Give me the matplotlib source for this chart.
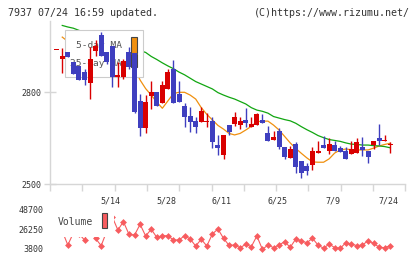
import matplotlib
matplotlib.use("Agg")
import matplotlib.pyplot as plt
import matplotlib.transforms as mtransforms
from matplotlib.patches import Rectangle
import numpy as np

# ---------------- data ----------------
title_left = "7937 07/24 16:59 updated."
title_right = "(C)https://www.rizumu.net/"
date_labels = ["5/14", "5/28", "6/11", "6/25", "7/9", "7/24"]
date_label_idx = [10, 20, 30, 40, 50, 60]
price_ticks = [2500, 2800]
volume_ticks = [3800, 26250, 48700]
volume_tick_labels = ["3800", "26250", "48700"]
legend_price = ["5-day MA", "25-day MA"]
legend_volume = "Volume"

opens = [2939, 2907, 2930, 2898, 2885, 2866, 2830, 2933, 2985, 2929,
         2950, 2850, 2848, 2929, 2927, 2771, 2684, 2788, 2800, 2763,
         2810, 2875, 2793, 2754, 2722, 2705, 2703, 2701, 2706, 2627,
         2595, 2692, 2697, 2692, 2709, 2687, 2692, 2709, 2667, 2643,
         2674, 2622, 2586, 2630, 2575, 2559, 2562, 2602, 2627, 2609,
         2627, 2618, 2609, 2598, 2602, 2622, 2609, 2626, 2651, 2640,
         2630]
highs = [2939, 2942, 2930, 2898, 2885, 2876, 2948, 2970, 2995, 2929,
         2950, 2899, 2908, 2946, 2927, 2793, 2790, 2836, 2800, 2836,
         2874, 2904, 2836, 2763, 2752, 2719, 2750, 2733, 2717, 2660,
         2660, 2692, 2735, 2717, 2749, 2717, 2733, 2728, 2689, 2673,
         2682, 2622, 2624, 2637, 2575, 2567, 2622, 2640, 2656, 2649,
         2640, 2624, 2622, 2640, 2651, 2654, 2609, 2640, 2696, 2660,
         2638]
lows = [2939, 2861, 2915, 2860, 2839, 2823, 2777, 2917, 2917, 2890,
        2817, 2817, 2841, 2875, 2731, 2657, 2667, 2743, 2755, 2763,
        2810, 2765, 2768, 2687, 2671, 2667, 2703, 2687, 2618, 2595,
        2581, 2660, 2690, 2678, 2687, 2685, 2692, 2698, 2641, 2643,
        2613, 2581, 2586, 2537, 2520, 2529, 2546, 2602, 2618, 2598,
        2609, 2605, 2582, 2598, 2602, 2591, 2569, 2613, 2627, 2640,
        2602]
closes = [2939, 2917, 2915, 2860, 2839, 2839, 2908, 2950, 2917, 2899,
          2850, 2856, 2902, 2882, 2736, 2684, 2768, 2800, 2755, 2823,
          2866, 2765, 2768, 2719, 2703, 2687, 2739, 2706, 2638, 2618,
          2660, 2670, 2719, 2705, 2700, 2696, 2728, 2700, 2641, 2654,
          2622, 2589, 2614, 2557, 2537, 2543, 2608, 2608, 2618, 2630,
          2609, 2605, 2582, 2614, 2637, 2611, 2589, 2640, 2641, 2643,
          2630]
ma5 = [np.nan, 2979, 2965, 2935, 2915, 2894, 2874, 2872, 2879, 2891,
       2903, 2905, 2894, 2885, 2878, 2839, 2811, 2790, 2767, 2747,
       2771, 2795, 2799, 2799, 2790, 2777, 2749, 2727, 2709, 2691,
       2679, 2665, 2660, 2665, 2676, 2688, 2703, 2705, 2705, 2692,
       2676, 2655, 2634, 2616, 2600, 2585, 2572, 2571, 2571, 2582,
       2601, 2611, 2614, 2612, 2611, 2611, 2611, 2617, 2624, 2629,
       2633]
ma25 = [np.nan, 3017, 3012, 3008, 3001, 2995, 2989, 2983, 2977, 2971,
        2965, 2959, 2953, 2947, 2941, 2935, 2929, 2916, 2906, 2895,
        2885, 2876, 2865, 2856, 2845, 2834, 2826, 2818, 2810, 2798,
        2790, 2783, 2777, 2769, 2761, 2749, 2741, 2737, 2731, 2720,
        2715, 2710, 2706, 2698, 2687, 2677, 2668, 2658, 2651, 2645,
        2642, 2639, 2634, 2630, 2629, 2627, 2627, 2625, 2624, 2622,
        2618]
volume = [28000, 24000, 8300, 22000, 21000, 14000, 30000, 15700, 7500, 24000,
          40000, 25300, 34700, 20400, 19600, 31700, 18500, 26100, 17000, 18800,
          18800, 14000, 14000, 18800, 15100, 7200, 14800, 7200, 20800, 26400,
          15900, 7900, 8300, 5300, 9100, 6400, 18500, 3400, 8300, 5300,
          8300, 12100, 5700, 15100, 12800, 10900, 15900, 8300, 4600, 9500,
          5300, 4600, 10900, 9500, 7500, 8300, 13200, 10200, 5700, 5300,
          7500]

# ---------------- style ----------------
RED = "#d90000"
BLUE = "#3f3fbf"
ORANGE = "#f0900f"
GREEN = "#11a611"
VOLC = "#f75c5f"
AXC = "#d6d6d6"
TXT = "#333333"
MONO = "DejaVu Sans Mono"

W, H = 420, 259
fig = plt.figure(figsize=(W / 100, H / 100), dpi=100)
fig.patch.set_facecolor("white")
# pixel (from top-left) -> figure transform
PX = mtransforms.Affine2D().scale(1, -1).translate(0, H).scale(1 / W, 1 / H) + fig.transFigure

ax_left, ax_right = 50, 405.3
p_top, p_bot = 20.7, 184
ax = fig.add_axes([ax_left / W, (H - p_bot) / H, (ax_right - ax_left) / W, (p_bot - p_top) / H])
v_top, v_bot = 209.3, 249
axv = fig.add_axes([ax_left / W, (H - v_bot) / H, (ax_right - ax_left) / W, (v_bot - v_top) / H])

n = len(closes)
x = np.arange(n)
step = 5.56
x0 = -(56.7 - ax_left) / step
x1 = x0 + (ax_right - ax_left) / step
ax.set_xlim(x0, x1)
axv.set_xlim(x0, x1)
yppx = 300 / 92.0
ax.set_ylim(2500, 2500 + (p_bot - p_top) * yppx)
axv.set_ylim(3800, 48700)

# MA lines
ax.plot(x, ma5, color=ORANGE, lw=0.9, zorder=2)
ax.plot(x, ma25, color=GREEN, lw=0.9, zorder=2)

# candles
for i in range(n):
    up = closes[i] >= opens[i]
    col = RED if up else BLUE
    ax.vlines(x[i], lows[i], highs[i], color=col, lw=1.0, zorder=5)
    lo = min(opens[i], closes[i])
    h = abs(closes[i] - opens[i])
    if h < 3:
        lo -= (3 - h) / 2
        h = 3
    ax.bar(x[i], h, bottom=lo, width=0.9, color=col, lw=0, zorder=5)

# price legend (drawn under candles, over MA lines)
ax.add_patch(Rectangle((65.3, 77.3), 78, -47, transform=PX, facecolor="white",
                       edgecolor="#cccccc", lw=0.8, zorder=3, clip_on=False))
ax.text(122, 45.7, legend_price[0], transform=PX, ha="right", va="center",
        fontsize=6.8, family=MONO, color="#555555", zorder=3.5, clip_on=False)
ax.text(122, 63.3, legend_price[1], transform=PX, ha="right", va="center",
        fontsize=6.8, family=MONO, color="#555555", zorder=3.5, clip_on=False)
ax.add_patch(Rectangle((131, 52.7), 6.3, -15.4, transform=PX, facecolor=ORANGE,
                       edgecolor="#444444", lw=0.8, zorder=3.5, clip_on=False))
ax.add_patch(Rectangle((131, 66.7), 6.3, -12.4, transform=PX, facecolor=GREEN,
                       edgecolor="#444444", lw=0.8, zorder=3.5, clip_on=False))

# axes styling price
for s in ["top", "right"]:
    ax.spines[s].set_visible(False)
for s in ["left", "bottom"]:
    ax.spines[s].set_color(AXC)
    ax.spines[s].set_linewidth(1.0)
ax.set_yticks(price_ticks)
ax.set_yticklabels([str(v) for v in price_ticks])
ax.tick_params(axis="y", direction="inout", length=9, width=1.0, color=AXC,
               labelsize=6, labelcolor=TXT, pad=2)
ax.set_xticks([i - 0.35 for i in date_label_idx])
ax.set_xticklabels(date_labels)
ax.tick_params(axis="x", which="major", length=0, labelsize=6, labelcolor=TXT, pad=9)
ax.set_xticks(np.linspace(x0, x1, 12), minor=True)
ax.tick_params(axis="x", which="minor", direction="out", length=5, width=1.0, color=AXC)
for lab in ax.get_xticklabels() + ax.get_yticklabels():
    lab.set_family(MONO)

# volume
axv.plot(x, volume, color=VOLC, lw=0.8, marker="D", markersize=3.5,
         markeredgewidth=0, zorder=2, clip_on=False)
axv.add_patch(Rectangle((54, 237), 60, -31, transform=PX, facecolor="white",
                        edgecolor="none", zorder=3, clip_on=False))
axv.text(58, 221.7, legend_volume, transform=PX, ha="left", va="center",
         fontsize=7, family=MONO, color="#444444", zorder=4, clip_on=False)
axv.add_patch(Rectangle((101.7, 228.3), 5.6, -15, transform=PX, facecolor=VOLC,
                        edgecolor="#444444", lw=0.8, zorder=4, clip_on=False))
for s in axv.spines.values():
    s.set_visible(False)
axv.set_xticks([])
axv.set_yticks(volume_ticks)
axv.set_yticklabels(volume_tick_labels)
axv.tick_params(axis="y", length=0, labelsize=6, labelcolor=TXT, pad=4.5)
for lab in axv.get_yticklabels():
    lab.set_family(MONO)
axv.patch.set_alpha(0)
ax.patch.set_alpha(0)

# header
fig.text(8 / W, 1 - 12.5 / H, title_left, ha="left", va="center", fontsize=7.2,
         family=MONO, color=TXT)
fig.text(410 / W, 1 - 12.5 / H, title_right, ha="right", va="center", fontsize=7.2,
         family=MONO, color=TXT)

fig.savefig("out.png", dpi=100, facecolor="white")
